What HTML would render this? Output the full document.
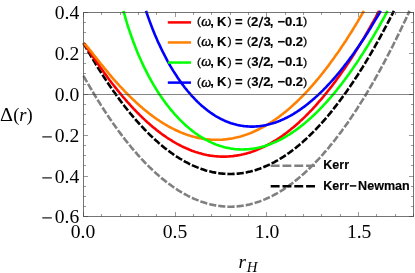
<!DOCTYPE html>
<html><head><meta charset="utf-8"><title>plot</title>
<style>
html,body{margin:0;padding:0;background:#fff;}
body{width:415px;height:273px;overflow:hidden;}
svg{display:block;will-change:transform}
text{font-family:"Liberation Serif",serif;font-size:18px;fill:#000}
.lg{font-family:"Liberation Sans",sans-serif;font-weight:bold;stroke:#000;stroke-width:0.15px}
.lp{font-family:"Liberation Sans",sans-serif;font-weight:normal;stroke:#000;stroke-width:0.3px}
.om{font-family:"Liberation Serif",serif;font-style:italic;font-weight:normal;stroke:#000;stroke-width:0.35px}
</style></head><body>
<svg width="415" height="273" viewBox="0 0 415 273">
<rect width="415" height="273" fill="#fff"/>
<g stroke-linejoin="round">
<path d="M83.5 75.9 84.8 78.1 86.0 80.3 87.3 82.5 88.5 84.7 89.8 86.9 91.1 89.0 92.3 91.1 93.6 93.2 94.8 95.3 96.1 97.4 97.3 99.4 98.6 101.4 99.9 103.4 101.1 105.4 102.4 107.4 103.6 109.3 104.9 111.3 106.2 113.2 107.4 115.1 108.7 116.9 109.9 118.8 111.2 120.6 112.5 122.4 113.7 124.2 115.0 126.0 116.2 127.7 117.5 129.5 118.7 131.2 120.0 132.9 121.3 134.6 122.5 136.2 123.8 137.9 125.0 139.5 126.3 141.1 127.6 142.7 128.8 144.2 130.1 145.8 131.3 147.3 132.6 148.8 133.9 150.3 135.1 151.7 136.4 153.2 137.6 154.6 138.9 156.0 140.1 157.4 141.4 158.8 142.7 160.1 143.9 161.5 145.2 162.8 146.4 164.1 147.7 165.3 149.0 166.6 150.2 167.8 151.5 169.0 152.7 170.2 154.0 171.4 155.3 172.6 156.5 173.7 157.8 174.8 159.0 175.9 160.3 177.0 161.5 178.1 162.8 179.1 164.1 180.1 165.3 181.1 166.6 182.1 167.8 183.1 169.1 184.0 170.4 184.9 171.6 185.8 172.9 186.7 174.1 187.6 175.4 188.4 176.7 189.3 177.9 190.1 179.2 190.9 180.4 191.6 181.7 192.4 182.9 193.1 184.2 193.8 185.5 194.5 186.7 195.2 188.0 195.9 189.2 196.5 190.5 197.1 191.8 197.7 193.0 198.3 194.3 198.9 195.5 199.4 196.8 199.9 198.1 200.4 199.3 200.9 200.6 201.4 201.8 201.8 203.1 202.2 204.3 202.6 205.6 203.0 206.9 203.4 208.1 203.7 209.4 204.1 210.6 204.4 211.9 204.7 213.2 204.9 214.4 205.2 215.7 205.4 216.9 205.6 218.2 205.8 219.5 206.0 220.7 206.1 222.0 206.3 223.2 206.4 224.5 206.5 225.7 206.6 227.0 206.6 228.3 206.7 229.5 206.7 230.8 206.7 232.0 206.7 233.3 206.6 234.6 206.6 235.8 206.5 237.1 206.4 238.3 206.3 239.6 206.1 240.9 206.0 242.1 205.8 243.4 205.6 244.6 205.4 245.9 205.2 247.1 204.9 248.4 204.7 249.7 204.4 250.9 204.1 252.2 203.7 253.4 203.4 254.7 203.0 256.0 202.6 257.2 202.2 258.5 201.8 259.7 201.4 261.0 200.9 262.3 200.4 263.5 199.9 264.8 199.4 266.0 198.8 267.3 198.3 268.5 197.7 269.8 197.1 271.1 196.5 272.3 195.9 273.6 195.2 274.8 194.5 276.1 193.8 277.4 193.1 278.6 192.4 279.9 191.6 281.1 190.9 282.4 190.1 283.7 189.3 284.9 188.4 286.2 187.6 287.4 186.7 288.7 185.8 289.9 184.9 291.2 184.0 292.5 183.1 293.7 182.1 295.0 181.1 296.2 180.1 297.5 179.1 298.8 178.0 300.0 177.0 301.3 175.9 302.5 174.8 303.8 173.7 305.1 172.5 306.3 171.4 307.6 170.2 308.8 169.0 310.1 167.8 311.3 166.6 312.6 165.3 313.9 164.0 315.1 162.7 316.4 161.4 317.6 160.1 318.9 158.8 320.2 157.4 321.4 156.0 322.7 154.6 323.9 153.2 325.2 151.7 326.5 150.2 327.7 148.8 329.0 147.3 330.2 145.7 331.5 144.2 332.7 142.6 334.0 141.1 335.3 139.5 336.5 137.8 337.8 136.2 339.0 134.5 340.3 132.9 341.6 131.2 342.8 129.4 344.1 127.7 345.3 126.0 346.6 124.2 347.9 122.4 349.1 120.6 350.4 118.7 351.6 116.9 352.9 115.0 354.1 113.1 355.4 111.2 356.7 109.3 357.9 107.3 359.2 105.4 360.4 103.4 361.7 101.4 363.0 99.4 364.2 97.3 365.5 95.3 366.7 93.2 368.0 91.1 369.3 89.0 370.5 86.8 371.8 84.7 373.0 82.5 374.3 80.3 375.5 78.1 376.8 75.8 378.1 73.6 379.3 71.3 380.6 69.0 381.8 66.7 383.1 64.3 384.4 62.0 385.6 59.6 386.9 57.2 388.1 54.8 389.4 52.4 390.7 49.9 391.9 47.5 393.2 45.0 394.4 42.5 395.7 40.0 396.9 37.4 398.2 34.8 399.5 32.3 400.7 29.7 402.0 27.0 403.2 24.4 404.5 21.7 405.8 19.1 407.0 16.4 408.3 13.6 409.5 10.9" fill="none" stroke="#808080" stroke-width="2.6" stroke-dasharray="7.2 2.0"/>
<path d="M83.5 43.2 84.7 45.3 85.9 47.4 87.1 49.5 88.3 51.6 89.5 53.6 90.7 55.7 91.9 57.7 93.1 59.7 94.3 61.7 95.5 63.7 96.7 65.6 97.9 67.6 99.1 69.5 100.3 71.4 101.5 73.3 102.7 75.1 103.9 77.0 105.1 78.8 106.3 80.6 107.5 82.4 108.7 84.2 109.9 86.0 111.1 87.7 112.3 89.4 113.5 91.2 114.7 92.8 115.9 94.5 117.1 96.2 118.3 97.8 119.4 99.4 120.6 101.0 121.8 102.6 123.0 104.2 124.2 105.8 125.4 107.3 126.6 108.8 127.8 110.3 129.0 111.8 130.2 113.3 131.4 114.7 132.6 116.1 133.8 117.5 135.0 118.9 136.2 120.3 137.4 121.7 138.6 123.0 139.8 124.3 141.0 125.7 142.2 126.9 143.4 128.2 144.6 129.5 145.8 130.7 147.0 131.9 148.2 133.1 149.4 134.3 150.6 135.5 151.8 136.6 153.0 137.8 154.2 138.9 155.4 140.0 156.6 141.1 157.8 142.1 159.0 143.2 160.2 144.2 161.4 145.2 162.6 146.2 163.8 147.2 165.0 148.2 166.2 149.1 167.4 150.0 168.6 150.9 169.8 151.8 171.0 152.7 172.2 153.5 173.4 154.4 174.6 155.2 175.8 156.0 177.0 156.8 178.2 157.5 179.4 158.3 180.6 159.0 181.8 159.7 183.0 160.4 184.2 161.1 185.4 161.8 186.6 162.4 187.8 163.0 189.0 163.7 190.2 164.2 191.3 164.8 192.5 165.4 193.7 165.9 194.9 166.4 196.1 166.9 197.3 167.4 198.5 167.9 199.7 168.4 200.9 168.8 202.1 169.2 203.3 169.6 204.5 170.0 205.7 170.4 206.9 170.7 208.1 171.0 209.3 171.3 210.5 171.6 211.7 171.9 212.9 172.2 214.1 172.4 215.3 172.6 216.5 172.8 217.7 173.0 218.9 173.2 220.1 173.4 221.3 173.5 222.5 173.6 223.7 173.7 224.9 173.8 226.1 173.9 227.3 173.9 228.5 174.0 229.7 174.0 230.9 174.0 232.1 174.0 233.3 173.9 234.5 173.9 235.7 173.8 236.9 173.7 238.1 173.6 239.3 173.5 240.5 173.3 241.7 173.2 242.9 173.0 244.1 172.8 245.3 172.6 246.5 172.4 247.7 172.1 248.9 171.8 250.1 171.6 251.3 171.3 252.5 170.9 253.7 170.6 254.9 170.3 256.1 169.9 257.3 169.5 258.5 169.1 259.7 168.7 260.9 168.2 262.1 167.8 263.2 167.3 264.4 166.8 265.6 166.3 266.8 165.8 268.0 165.2 269.2 164.7 270.4 164.1 271.6 163.5 272.8 162.9 274.0 162.3 275.2 161.6 276.4 160.9 277.6 160.3 278.8 159.6 280.0 158.8 281.2 158.1 282.4 157.3 283.6 156.6 284.8 155.8 286.0 155.0 287.2 154.2 288.4 153.3 289.6 152.5 290.8 151.6 292.0 150.7 293.2 149.8 294.4 148.9 295.6 147.9 296.8 146.9 298.0 146.0 299.2 145.0 300.4 143.9 301.6 142.9 302.8 141.9 304.0 140.8 305.2 139.7 306.4 138.6 307.6 137.5 308.8 136.3 310.0 135.2 311.2 134.0 312.4 132.8 313.6 131.6 314.8 130.4 316.0 129.2 317.2 127.9 318.4 126.6 319.6 125.3 320.8 124.0 322.0 122.7 323.2 121.3 324.4 120.0 325.6 118.6 326.8 117.2 328.0 115.8 329.2 114.3 330.4 112.9 331.6 111.4 332.8 109.9 333.9 108.4 335.1 106.9 336.3 105.4 337.5 103.8 338.7 102.2 339.9 100.6 341.1 99.0 342.3 97.4 343.5 95.7 344.7 94.1 345.9 92.4 347.1 90.7 348.3 89.0 349.5 87.3 350.7 85.5 351.9 83.7 353.1 82.0 354.3 80.2 355.5 78.3 356.7 76.5 357.9 74.7 359.1 72.8 360.3 70.9 361.5 69.0 362.7 67.1 363.9 65.1 365.1 63.2 366.3 61.2 367.5 59.2 368.7 57.2 369.9 55.1 371.1 53.1 372.3 51.0 373.5 49.0 374.7 46.9 375.9 44.7 377.1 42.6 378.3 40.5 379.5 38.3 380.7 36.1 381.9 33.9 383.1 31.7 384.3 29.4 385.5 27.2 386.7 24.9 387.9 22.6 389.1 20.3 390.3 18.0 391.5 15.6 392.7 13.3 393.9 10.9" fill="none" stroke="#000000" stroke-width="2.6" stroke-dasharray="7.2 2.0"/>
<path d="M83.5 43.2 84.6 44.5 85.8 46.1 86.9 47.8 88.1 49.4 89.2 51.1 90.3 52.8 91.5 54.5 92.6 56.2 93.8 57.9 94.9 59.5 96.1 61.2 97.2 62.8 98.3 64.5 99.5 66.1 100.6 67.7 101.8 69.3 102.9 70.9 104.0 72.5 105.2 74.1 106.3 75.6 107.5 77.2 108.6 78.7 109.7 80.2 110.9 81.7 112.0 83.2 113.2 84.7 114.3 86.1 115.5 87.6 116.6 89.0 117.7 90.4 118.9 91.8 120.0 93.2 121.2 94.6 122.3 96.0 123.4 97.3 124.6 98.7 125.7 100.0 126.9 101.3 128.0 102.6 129.2 103.8 130.3 105.1 131.4 106.3 132.6 107.6 133.7 108.8 134.9 110.0 136.0 111.2 137.1 112.3 138.3 113.5 139.4 114.6 140.6 115.8 141.7 116.9 142.8 118.0 144.0 119.1 145.1 120.1 146.3 121.2 147.4 122.2 148.6 123.2 149.7 124.2 150.8 125.2 152.0 126.2 153.1 127.2 154.3 128.1 155.4 129.0 156.5 130.0 157.7 130.9 158.8 131.7 160.0 132.6 161.1 133.5 162.2 134.3 163.4 135.1 164.5 135.9 165.7 136.7 166.8 137.5 168.0 138.3 169.1 139.0 170.2 139.7 171.4 140.4 172.5 141.1 173.7 141.8 174.8 142.5 175.9 143.2 177.1 143.8 178.2 144.4 179.4 145.0 180.5 145.6 181.6 146.2 182.8 146.8 183.9 147.3 185.1 147.8 186.2 148.3 187.4 148.8 188.5 149.3 189.6 149.8 190.8 150.2 191.9 150.7 193.1 151.1 194.2 151.5 195.3 151.9 196.5 152.3 197.6 152.6 198.8 153.0 199.9 153.3 201.1 153.6 202.2 153.9 203.3 154.2 204.5 154.5 205.6 154.7 206.8 155.0 207.9 155.2 209.0 155.4 210.2 155.6 211.3 155.7 212.5 155.9 213.6 156.0 214.7 156.2 215.9 156.3 217.0 156.4 218.2 156.5 219.3 156.5 220.5 156.6 221.6 156.6 222.7 156.6 223.9 156.6 225.0 156.6 226.2 156.6 227.3 156.5 228.4 156.5 229.6 156.4 230.7 156.3 231.9 156.2 233.0 156.1 234.1 155.9 235.3 155.8 236.4 155.6 237.6 155.4 238.7 155.2 239.9 155.0 241.0 154.8 242.1 154.5 243.3 154.3 244.4 154.0 245.6 153.7 246.7 153.4 247.8 153.1 249.0 152.7 250.1 152.4 251.3 152.0 252.4 151.6 253.5 151.2 254.7 150.8 255.8 150.3 257.0 149.9 258.1 149.4 259.3 148.9 260.4 148.4 261.5 147.9 262.7 147.4 263.8 146.9 265.0 146.3 266.1 145.7 267.2 145.1 268.4 144.5 269.5 143.9 270.7 143.3 271.8 142.6 273.0 141.9 274.1 141.2 275.2 140.5 276.4 139.8 277.5 139.1 278.7 138.3 279.8 137.6 280.9 136.8 282.1 136.0 283.2 135.2 284.4 134.4 285.5 133.5 286.6 132.7 287.8 131.8 288.9 130.9 290.1 130.0 291.2 129.1 292.4 128.1 293.5 127.2 294.6 126.2 295.8 125.2 296.9 124.2 298.1 123.2 299.2 122.2 300.3 121.1 301.5 120.1 302.6 119.0 303.8 117.9 304.9 116.8 306.0 115.7 307.2 114.5 308.3 113.4 309.5 112.2 310.6 111.0 311.8 109.8 312.9 108.6 314.0 107.3 315.2 106.1 316.3 104.8 317.5 103.5 318.6 102.2 319.7 100.9 320.9 99.6 322.0 98.3 323.2 96.9 324.3 95.5 325.4 94.1 326.6 92.7 327.7 91.3 328.9 89.8 330.0 88.4 331.2 86.9 332.3 85.4 333.4 83.9 334.6 82.4 335.7 80.9 336.9 79.3 338.0 77.8 339.1 76.2 340.3 74.6 341.4 73.0 342.6 71.3 343.7 69.7 344.9 68.0 346.0 66.4 347.1 64.7 348.3 63.0 349.4 61.2 350.6 59.5 351.7 57.7 352.8 56.0 354.0 54.2 355.1 52.4 356.3 50.6 357.4 48.7 358.5 46.9 359.7 45.0 360.8 43.1 362.0 41.2 363.1 39.3 364.3 37.4 365.4 35.5 366.5 33.5 367.7 31.5 368.8 29.5 370.0 27.5 371.1 25.5 372.2 23.5 373.4 21.4 374.5 19.3 375.7 17.3 376.8 15.1 377.9 13.0 379.1 10.9" fill="none" stroke="#ff0000" stroke-width="2.6"/>
<path d="M83.5 43.2 84.6 43.7 85.7 44.9 86.7 46.1 87.8 47.4 88.9 48.7 90.0 50.1 91.1 51.4 92.2 52.8 93.2 54.2 94.3 55.6 95.4 56.9 96.5 58.3 97.6 59.7 98.7 61.0 99.7 62.4 100.8 63.8 101.9 65.1 103.0 66.4 104.1 67.8 105.2 69.1 106.2 70.4 107.3 71.7 108.4 73.0 109.5 74.3 110.6 75.6 111.6 76.8 112.7 78.1 113.8 79.3 114.9 80.6 116.0 81.8 117.1 83.0 118.1 84.2 119.2 85.4 120.3 86.6 121.4 87.7 122.5 88.9 123.6 90.0 124.6 91.2 125.7 92.3 126.8 93.4 127.9 94.5 129.0 95.6 130.0 96.6 131.1 97.7 132.2 98.7 133.3 99.8 134.4 100.8 135.5 101.8 136.5 102.8 137.6 103.8 138.7 104.8 139.8 105.7 140.9 106.7 142.0 107.6 143.0 108.5 144.1 109.4 145.2 110.3 146.3 111.2 147.4 112.1 148.5 112.9 149.5 113.8 150.6 114.6 151.7 115.4 152.8 116.2 153.9 117.0 154.9 117.8 156.0 118.5 157.1 119.3 158.2 120.0 159.3 120.7 160.4 121.5 161.4 122.1 162.5 122.8 163.6 123.5 164.7 124.2 165.8 124.8 166.9 125.4 167.9 126.1 169.0 126.7 170.1 127.2 171.2 127.8 172.3 128.4 173.4 128.9 174.4 129.5 175.5 130.0 176.6 130.5 177.7 131.0 178.8 131.5 179.8 132.0 180.9 132.4 182.0 132.9 183.1 133.3 184.2 133.7 185.3 134.1 186.3 134.5 187.4 134.9 188.5 135.2 189.6 135.6 190.7 135.9 191.8 136.2 192.8 136.5 193.9 136.8 195.0 137.1 196.1 137.4 197.2 137.6 198.2 137.9 199.3 138.1 200.4 138.3 201.5 138.5 202.6 138.7 203.7 138.9 204.7 139.0 205.8 139.2 206.9 139.3 208.0 139.4 209.1 139.5 210.2 139.6 211.2 139.7 212.3 139.7 213.4 139.8 214.5 139.8 215.6 139.8 216.7 139.8 217.7 139.8 218.8 139.8 219.9 139.8 221.0 139.7 222.1 139.7 223.1 139.6 224.2 139.5 225.3 139.4 226.4 139.3 227.5 139.1 228.6 139.0 229.6 138.8 230.7 138.7 231.8 138.5 232.9 138.3 234.0 138.0 235.1 137.8 236.1 137.6 237.2 137.3 238.3 137.0 239.4 136.8 240.5 136.5 241.5 136.2 242.6 135.8 243.7 135.5 244.8 135.1 245.9 134.8 247.0 134.4 248.0 134.0 249.1 133.6 250.2 133.2 251.3 132.7 252.4 132.3 253.5 131.8 254.5 131.3 255.6 130.8 256.7 130.3 257.8 129.8 258.9 129.3 260.0 128.7 261.0 128.2 262.1 127.6 263.2 127.0 264.3 126.4 265.4 125.8 266.4 125.1 267.5 124.5 268.6 123.8 269.7 123.1 270.8 122.5 271.9 121.8 272.9 121.0 274.0 120.3 275.1 119.6 276.2 118.8 277.3 118.0 278.4 117.3 279.4 116.5 280.5 115.6 281.6 114.8 282.7 114.0 283.8 113.1 284.9 112.2 285.9 111.4 287.0 110.5 288.1 109.6 289.2 108.6 290.3 107.7 291.3 106.7 292.4 105.8 293.5 104.8 294.6 103.8 295.7 102.8 296.8 101.8 297.8 100.7 298.9 99.7 300.0 98.6 301.1 97.5 302.2 96.4 303.3 95.3 304.3 94.2 305.4 93.1 306.5 91.9 307.6 90.8 308.7 89.6 309.7 88.4 310.8 87.2 311.9 86.0 313.0 84.7 314.1 83.5 315.2 82.2 316.2 80.9 317.3 79.6 318.4 78.3 319.5 77.0 320.6 75.7 321.7 74.3 322.7 73.0 323.8 71.6 324.9 70.2 326.0 68.8 327.1 67.4 328.2 66.0 329.2 64.5 330.3 63.1 331.4 61.6 332.5 60.1 333.6 58.6 334.6 57.1 335.7 55.6 336.8 54.0 337.9 52.5 339.0 50.9 340.1 49.3 341.1 47.7 342.2 46.1 343.3 44.5 344.4 42.8 345.5 41.2 346.6 39.5 347.6 37.8 348.7 36.1 349.8 34.4 350.9 32.7 352.0 31.0 353.1 29.2 354.1 27.4 355.2 25.7 356.3 23.9 357.4 22.1 358.5 20.2 359.5 18.4 360.6 16.5 361.7 14.7 362.8 12.8 363.9 10.9" fill="none" stroke="#ff8000" stroke-width="2.6"/>
<path d="M123.4 10.9 124.5 14.6 125.5 18.1 126.5 21.5 127.5 24.8 128.5 28.0 129.6 31.1 130.6 34.1 131.6 37.0 132.6 39.8 133.6 42.6 134.7 45.3 135.7 47.9 136.7 50.4 137.7 52.9 138.7 55.3 139.8 57.7 140.8 60.0 141.8 62.2 142.8 64.4 143.8 66.6 144.9 68.7 145.9 70.7 146.9 72.7 147.9 74.7 148.9 76.6 150.0 78.5 151.0 80.3 152.0 82.1 153.0 83.9 154.0 85.6 155.1 87.3 156.1 89.0 157.1 90.6 158.1 92.2 159.1 93.8 160.1 95.3 161.2 96.8 162.2 98.3 163.2 99.7 164.2 101.1 165.2 102.5 166.3 103.9 167.3 105.2 168.3 106.5 169.3 107.8 170.3 109.1 171.4 110.3 172.4 111.5 173.4 112.7 174.4 113.9 175.4 115.0 176.5 116.1 177.5 117.2 178.5 118.3 179.5 119.4 180.5 120.4 181.6 121.4 182.6 122.4 183.6 123.4 184.6 124.3 185.6 125.3 186.7 126.2 187.7 127.0 188.7 127.9 189.7 128.8 190.7 129.6 191.8 130.4 192.8 131.2 193.8 132.0 194.8 132.7 195.8 133.5 196.9 134.2 197.9 134.9 198.9 135.6 199.9 136.2 200.9 136.9 202.0 137.5 203.0 138.1 204.0 138.7 205.0 139.3 206.0 139.9 207.1 140.4 208.1 140.9 209.1 141.5 210.1 141.9 211.1 142.4 212.2 142.9 213.2 143.3 214.2 143.8 215.2 144.2 216.2 144.6 217.3 145.0 218.3 145.3 219.3 145.7 220.3 146.0 221.3 146.3 222.4 146.6 223.4 146.9 224.4 147.2 225.4 147.4 226.4 147.7 227.5 147.9 228.5 148.1 229.5 148.3 230.5 148.5 231.5 148.7 232.6 148.8 233.6 148.9 234.6 149.1 235.6 149.2 236.6 149.3 237.7 149.3 238.7 149.4 239.7 149.4 240.7 149.5 241.7 149.5 242.8 149.5 243.8 149.5 244.8 149.4 245.8 149.4 246.8 149.3 247.8 149.3 248.9 149.2 249.9 149.1 250.9 149.0 251.9 148.8 252.9 148.7 254.0 148.5 255.0 148.4 256.0 148.2 257.0 148.0 258.0 147.8 259.1 147.5 260.1 147.3 261.1 147.0 262.1 146.8 263.1 146.5 264.2 146.2 265.2 145.9 266.2 145.6 267.2 145.2 268.2 144.9 269.3 144.5 270.3 144.1 271.3 143.7 272.3 143.3 273.3 142.9 274.4 142.4 275.4 142.0 276.4 141.5 277.4 141.1 278.4 140.6 279.5 140.1 280.5 139.5 281.5 139.0 282.5 138.5 283.5 137.9 284.6 137.3 285.6 136.7 286.6 136.1 287.6 135.5 288.6 134.9 289.7 134.3 290.7 133.6 291.7 132.9 292.7 132.2 293.7 131.5 294.8 130.8 295.8 130.1 296.8 129.4 297.8 128.6 298.8 127.9 299.9 127.1 300.9 126.3 301.9 125.5 302.9 124.7 303.9 123.8 305.0 123.0 306.0 122.1 307.0 121.3 308.0 120.4 309.0 119.5 310.1 118.6 311.1 117.7 312.1 116.7 313.1 115.8 314.1 114.8 315.2 113.8 316.2 112.8 317.2 111.8 318.2 110.8 319.2 109.8 320.3 108.7 321.3 107.7 322.3 106.6 323.3 105.5 324.3 104.4 325.4 103.3 326.4 102.2 327.4 101.1 328.4 99.9 329.4 98.8 330.5 97.6 331.5 96.4 332.5 95.2 333.5 94.0 334.5 92.8 335.6 91.5 336.6 90.3 337.6 89.0 338.6 87.7 339.6 86.4 340.6 85.1 341.7 83.8 342.7 82.5 343.7 81.1 344.7 79.8 345.7 78.4 346.8 77.0 347.8 75.6 348.8 74.2 349.8 72.8 350.8 71.3 351.9 69.9 352.9 68.4 353.9 66.9 354.9 65.4 355.9 63.9 357.0 62.4 358.0 60.9 359.0 59.4 360.0 57.8 361.0 56.2 362.1 54.6 363.1 53.1 364.1 51.4 365.1 49.8 366.1 48.2 367.2 46.5 368.2 44.9 369.2 43.2 370.2 41.5 371.2 39.8 372.3 38.1 373.3 36.4 374.3 34.7 375.3 32.9 376.3 31.1 377.4 29.4 378.4 27.6 379.4 25.8 380.4 24.0 381.4 22.1 382.5 20.3 383.5 18.4 384.5 16.6 385.5 14.7 386.5 12.8 387.6 10.9" fill="none" stroke="#00ff00" stroke-width="2.6"/>
<path d="M146.0 10.9 146.9 13.5 147.8 16.1 148.7 18.6 149.6 21.1 150.5 23.5 151.4 25.9 152.3 28.2 153.2 30.5 154.1 32.7 155.0 34.9 155.9 37.0 156.8 39.1 157.7 41.2 158.6 43.2 159.6 45.1 160.5 47.1 161.4 49.0 162.3 50.8 163.2 52.7 164.1 54.4 165.0 56.2 165.9 57.9 166.8 59.6 167.7 61.3 168.6 62.9 169.5 64.5 170.4 66.1 171.3 67.6 172.2 69.1 173.1 70.6 174.1 72.1 175.0 73.5 175.9 74.9 176.8 76.3 177.7 77.7 178.6 79.0 179.5 80.3 180.4 81.6 181.3 82.9 182.2 84.1 183.1 85.3 184.0 86.5 184.9 87.7 185.8 88.8 186.7 89.9 187.6 91.0 188.6 92.1 189.5 93.2 190.4 94.2 191.3 95.3 192.2 96.3 193.1 97.2 194.0 98.2 194.9 99.2 195.8 100.1 196.7 101.0 197.6 101.9 198.5 102.7 199.4 103.6 200.3 104.4 201.2 105.3 202.1 106.1 203.1 106.8 204.0 107.6 204.9 108.3 205.8 109.1 206.7 109.8 207.6 110.5 208.5 111.2 209.4 111.8 210.3 112.5 211.2 113.1 212.1 113.7 213.0 114.3 213.9 114.9 214.8 115.5 215.7 116.1 216.6 116.6 217.6 117.1 218.5 117.6 219.4 118.1 220.3 118.6 221.2 119.1 222.1 119.5 223.0 119.9 223.9 120.4 224.8 120.8 225.7 121.2 226.6 121.5 227.5 121.9 228.4 122.3 229.3 122.6 230.2 122.9 231.1 123.2 232.1 123.5 233.0 123.8 233.9 124.1 234.8 124.3 235.7 124.5 236.6 124.8 237.5 125.0 238.4 125.2 239.3 125.4 240.2 125.5 241.1 125.7 242.0 125.8 242.9 126.0 243.8 126.1 244.7 126.2 245.6 126.3 246.6 126.4 247.5 126.4 248.4 126.5 249.3 126.5 250.2 126.6 251.1 126.6 252.0 126.6 252.9 126.6 253.8 126.6 254.7 126.5 255.6 126.5 256.5 126.4 257.4 126.4 258.3 126.3 259.2 126.2 260.1 126.1 261.1 126.0 262.0 125.8 262.9 125.7 263.8 125.5 264.7 125.4 265.6 125.2 266.5 125.0 267.4 124.8 268.3 124.6 269.2 124.3 270.1 124.1 271.0 123.8 271.9 123.6 272.8 123.3 273.7 123.0 274.6 122.7 275.6 122.4 276.5 122.1 277.4 121.8 278.3 121.4 279.2 121.1 280.1 120.7 281.0 120.3 281.9 119.9 282.8 119.5 283.7 119.1 284.6 118.7 285.5 118.2 286.4 117.8 287.3 117.3 288.2 116.8 289.1 116.4 290.1 115.9 291.0 115.4 291.9 114.8 292.8 114.3 293.7 113.8 294.6 113.2 295.5 112.6 296.4 112.1 297.3 111.5 298.2 110.9 299.1 110.3 300.0 109.7 300.9 109.0 301.8 108.4 302.7 107.7 303.6 107.1 304.6 106.4 305.5 105.7 306.4 105.0 307.3 104.3 308.2 103.6 309.1 102.8 310.0 102.1 310.9 101.3 311.8 100.6 312.7 99.8 313.6 99.0 314.5 98.2 315.4 97.4 316.3 96.6 317.2 95.8 318.1 94.9 319.1 94.1 320.0 93.2 320.9 92.3 321.8 91.4 322.7 90.6 323.6 89.6 324.5 88.7 325.4 87.8 326.3 86.9 327.2 85.9 328.1 84.9 329.0 84.0 329.9 83.0 330.8 82.0 331.7 81.0 332.6 80.0 333.6 79.0 334.5 77.9 335.4 76.9 336.3 75.8 337.2 74.7 338.1 73.7 339.0 72.6 339.9 71.5 340.8 70.4 341.7 69.2 342.6 68.1 343.5 67.0 344.4 65.8 345.3 64.6 346.2 63.5 347.1 62.3 348.1 61.1 349.0 59.9 349.9 58.6 350.8 57.4 351.7 56.2 352.6 54.9 353.5 53.7 354.4 52.4 355.3 51.1 356.2 49.8 357.1 48.5 358.0 47.2 358.9 45.9 359.8 44.5 360.7 43.2 361.6 41.8 362.6 40.5 363.5 39.1 364.4 37.7 365.3 36.3 366.2 34.9 367.1 33.5 368.0 32.0 368.9 30.6 369.8 29.1 370.7 27.7 371.6 26.2 372.5 24.7 373.4 23.2 374.3 21.7 375.2 20.2 376.1 18.7 377.1 17.1 378.0 15.6 378.9 14.0 379.8 12.5 380.7 10.9" fill="none" stroke="#0000ff" stroke-width="2.6"/>
</g>
<line x1="83.50" y1="94.50" x2="413.50" y2="94.50" stroke="#333" stroke-opacity="0.6" stroke-width="1"/>
<g stroke="#333" stroke-opacity="0.5" stroke-width="1">
<line x1="83.5" y1="216.5" x2="83.5" y2="212.0"/>
<line x1="83.5" y1="12.5" x2="83.5" y2="17.0"/>
<line x1="101.5" y1="216.5" x2="101.5" y2="214.0"/>
<line x1="101.5" y1="12.5" x2="101.5" y2="15.0"/>
<line x1="120.5" y1="216.5" x2="120.5" y2="214.0"/>
<line x1="120.5" y1="12.5" x2="120.5" y2="15.0"/>
<line x1="138.5" y1="216.5" x2="138.5" y2="214.0"/>
<line x1="138.5" y1="12.5" x2="138.5" y2="15.0"/>
<line x1="156.5" y1="216.5" x2="156.5" y2="214.0"/>
<line x1="156.5" y1="12.5" x2="156.5" y2="15.0"/>
<line x1="175.5" y1="216.5" x2="175.5" y2="212.0"/>
<line x1="175.5" y1="12.5" x2="175.5" y2="17.0"/>
<line x1="193.5" y1="216.5" x2="193.5" y2="214.0"/>
<line x1="193.5" y1="12.5" x2="193.5" y2="15.0"/>
<line x1="211.5" y1="216.5" x2="211.5" y2="214.0"/>
<line x1="211.5" y1="12.5" x2="211.5" y2="15.0"/>
<line x1="230.5" y1="216.5" x2="230.5" y2="214.0"/>
<line x1="230.5" y1="12.5" x2="230.5" y2="15.0"/>
<line x1="248.5" y1="216.5" x2="248.5" y2="214.0"/>
<line x1="248.5" y1="12.5" x2="248.5" y2="15.0"/>
<line x1="266.5" y1="216.5" x2="266.5" y2="212.0"/>
<line x1="266.5" y1="12.5" x2="266.5" y2="17.0"/>
<line x1="285.5" y1="216.5" x2="285.5" y2="214.0"/>
<line x1="285.5" y1="12.5" x2="285.5" y2="15.0"/>
<line x1="303.5" y1="216.5" x2="303.5" y2="214.0"/>
<line x1="303.5" y1="12.5" x2="303.5" y2="15.0"/>
<line x1="321.5" y1="216.5" x2="321.5" y2="214.0"/>
<line x1="321.5" y1="12.5" x2="321.5" y2="15.0"/>
<line x1="340.5" y1="216.5" x2="340.5" y2="214.0"/>
<line x1="340.5" y1="12.5" x2="340.5" y2="15.0"/>
<line x1="358.5" y1="216.5" x2="358.5" y2="212.0"/>
<line x1="358.5" y1="12.5" x2="358.5" y2="17.0"/>
<line x1="376.5" y1="216.5" x2="376.5" y2="214.0"/>
<line x1="376.5" y1="12.5" x2="376.5" y2="15.0"/>
<line x1="395.5" y1="216.5" x2="395.5" y2="214.0"/>
<line x1="395.5" y1="12.5" x2="395.5" y2="15.0"/>
<line x1="413.5" y1="216.5" x2="413.5" y2="214.0"/>
<line x1="413.5" y1="12.5" x2="413.5" y2="15.0"/>
<line x1="83.5" y1="216.5" x2="88.0" y2="216.5"/>
<line x1="413.5" y1="216.5" x2="409.0" y2="216.5"/>
<line x1="83.5" y1="206.5" x2="86.0" y2="206.5"/>
<line x1="413.5" y1="206.5" x2="411.0" y2="206.5"/>
<line x1="83.5" y1="196.5" x2="86.0" y2="196.5"/>
<line x1="413.5" y1="196.5" x2="411.0" y2="196.5"/>
<line x1="83.5" y1="186.5" x2="86.0" y2="186.5"/>
<line x1="413.5" y1="186.5" x2="411.0" y2="186.5"/>
<line x1="83.5" y1="176.5" x2="88.0" y2="176.5"/>
<line x1="413.5" y1="176.5" x2="409.0" y2="176.5"/>
<line x1="83.5" y1="165.5" x2="86.0" y2="165.5"/>
<line x1="413.5" y1="165.5" x2="411.0" y2="165.5"/>
<line x1="83.5" y1="155.5" x2="86.0" y2="155.5"/>
<line x1="413.5" y1="155.5" x2="411.0" y2="155.5"/>
<line x1="83.5" y1="145.5" x2="86.0" y2="145.5"/>
<line x1="413.5" y1="145.5" x2="411.0" y2="145.5"/>
<line x1="83.5" y1="135.5" x2="88.0" y2="135.5"/>
<line x1="413.5" y1="135.5" x2="409.0" y2="135.5"/>
<line x1="83.5" y1="124.5" x2="86.0" y2="124.5"/>
<line x1="413.5" y1="124.5" x2="411.0" y2="124.5"/>
<line x1="83.5" y1="114.5" x2="86.0" y2="114.5"/>
<line x1="413.5" y1="114.5" x2="411.0" y2="114.5"/>
<line x1="83.5" y1="104.5" x2="86.0" y2="104.5"/>
<line x1="413.5" y1="104.5" x2="411.0" y2="104.5"/>
<line x1="83.5" y1="94.5" x2="88.0" y2="94.5"/>
<line x1="413.5" y1="94.5" x2="409.0" y2="94.5"/>
<line x1="83.5" y1="84.5" x2="86.0" y2="84.5"/>
<line x1="413.5" y1="84.5" x2="411.0" y2="84.5"/>
<line x1="83.5" y1="73.5" x2="86.0" y2="73.5"/>
<line x1="413.5" y1="73.5" x2="411.0" y2="73.5"/>
<line x1="83.5" y1="63.5" x2="86.0" y2="63.5"/>
<line x1="413.5" y1="63.5" x2="411.0" y2="63.5"/>
<line x1="83.5" y1="53.5" x2="88.0" y2="53.5"/>
<line x1="413.5" y1="53.5" x2="409.0" y2="53.5"/>
<line x1="83.5" y1="43.5" x2="86.0" y2="43.5"/>
<line x1="413.5" y1="43.5" x2="411.0" y2="43.5"/>
<line x1="83.5" y1="32.5" x2="86.0" y2="32.5"/>
<line x1="413.5" y1="32.5" x2="411.0" y2="32.5"/>
<line x1="83.5" y1="22.5" x2="86.0" y2="22.5"/>
<line x1="413.5" y1="22.5" x2="411.0" y2="22.5"/>
<line x1="83.5" y1="12.5" x2="88.0" y2="12.5"/>
<line x1="413.5" y1="12.5" x2="409.0" y2="12.5"/>
</g>
<rect x="83.50" y="12.50" width="330.00" height="204.00" fill="none" stroke="#333" stroke-opacity="0.68" stroke-width="1"/>
<g>
<text transform="translate(79.3 19.00) scale(1.09 1)" text-anchor="end">0.4</text>
<text transform="translate(79.3 60.00) scale(1.09 1)" text-anchor="end">0.2</text>
<text transform="translate(79.3 101.00) scale(1.09 1)" text-anchor="end">0.0</text>
<text transform="translate(79.3 142.00) scale(1.09 1)" text-anchor="end">0.2</text>
<line x1="42.3" y1="136.90" x2="51.8" y2="136.90" stroke="#000" stroke-width="1.1"/>
<text transform="translate(79.3 183.00) scale(1.09 1)" text-anchor="end">0.4</text>
<line x1="42.3" y1="177.90" x2="51.8" y2="177.90" stroke="#000" stroke-width="1.1"/>
<text transform="translate(79.3 223.00) scale(1.09 1)" text-anchor="end">0.6</text>
<line x1="42.3" y1="217.90" x2="51.8" y2="217.90" stroke="#000" stroke-width="1.1"/>
<text transform="translate(83.00 237.6) scale(1.09 1)" text-anchor="middle">0.0</text>
<text transform="translate(175.05 237.6) scale(1.09 1)" text-anchor="middle">0.5</text>
<text transform="translate(267.10 237.6) scale(1.09 1)" text-anchor="middle">1.0</text>
<text transform="translate(359.15 237.6) scale(1.09 1)" text-anchor="middle">1.5</text>
</g>
<text transform="translate(0.1 121) scale(1.09 1)" style="font-size:18.5px">Δ</text>
<text x="13.2" y="121" style="font-size:18.5px">(<tspan font-style="italic">r</tspan>)</text>
<text x="238.6" y="267.6" style="font-size:19px;font-style:italic">r<tspan dx="0.7" dy="4.3" style="font-size:14.8px">H</tspan></text>
<line x1="167.8" y1="22.40" x2="191" y2="22.40" stroke="#ff0000" stroke-width="2.5"/>
<text x="196.92" y="25.40" class="lp" style="font-size:11.7px">(</text>
<text x="201.28" y="26.30" class="om" style="font-size:14.2px">ω</text>
<text x="210.16" y="26.10" class="lg" style="font-size:13.05px">,</text>
<text x="216.98" y="25.70" class="lg" style="font-size:13.05px">K</text>
<text x="227.78" y="25.40" class="lp" style="font-size:11.7px">)</text>
<text x="235.11" y="25.70" class="lg" style="font-size:13.05px">=</text>
<text x="247.12" y="25.40" class="lp" style="font-size:11.7px">(</text>
<text x="251.10" y="25.70" class="lg" style="font-size:13.05px">2</text>
<line x1="259.0" y1="27.60" x2="262.7" y2="16.70" stroke="#000" stroke-width="1.5"/>
<text x="263.45" y="25.70" class="lg" style="font-size:13.05px">3</text>
<text x="269.86" y="26.10" class="lg" style="font-size:13.05px">,</text>
<text x="277.41" y="25.70" class="lg" style="font-size:13.05px">−</text>
<text x="284.93" y="25.70" class="lg" style="font-size:13.05px">0.1</text>
<text x="303.18" y="25.40" class="lp" style="font-size:11.7px">)</text>
<line x1="167.8" y1="42.47" x2="191" y2="42.47" stroke="#ff8000" stroke-width="2.5"/>
<text x="196.92" y="45.47" class="lp" style="font-size:11.7px">(</text>
<text x="201.28" y="46.37" class="om" style="font-size:14.2px">ω</text>
<text x="210.16" y="46.17" class="lg" style="font-size:13.05px">,</text>
<text x="216.98" y="45.77" class="lg" style="font-size:13.05px">K</text>
<text x="227.78" y="45.47" class="lp" style="font-size:11.7px">)</text>
<text x="235.11" y="45.77" class="lg" style="font-size:13.05px">=</text>
<text x="247.12" y="45.47" class="lp" style="font-size:11.7px">(</text>
<text x="251.10" y="45.77" class="lg" style="font-size:13.05px">2</text>
<line x1="259.0" y1="47.67" x2="262.7" y2="36.77" stroke="#000" stroke-width="1.5"/>
<text x="263.45" y="45.77" class="lg" style="font-size:13.05px">3</text>
<text x="269.86" y="46.17" class="lg" style="font-size:13.05px">,</text>
<text x="277.41" y="45.77" class="lg" style="font-size:13.05px">−</text>
<text x="284.93" y="45.77" class="lg" style="font-size:13.05px">0.2</text>
<text x="303.18" y="45.47" class="lp" style="font-size:11.7px">)</text>
<line x1="167.8" y1="62.54" x2="191" y2="62.54" stroke="#00ff00" stroke-width="2.5"/>
<text x="196.92" y="65.54" class="lp" style="font-size:11.7px">(</text>
<text x="201.28" y="66.44" class="om" style="font-size:14.2px">ω</text>
<text x="210.16" y="66.24" class="lg" style="font-size:13.05px">,</text>
<text x="216.98" y="65.84" class="lg" style="font-size:13.05px">K</text>
<text x="227.78" y="65.54" class="lp" style="font-size:11.7px">)</text>
<text x="235.11" y="65.84" class="lg" style="font-size:13.05px">=</text>
<text x="247.12" y="65.54" class="lp" style="font-size:11.7px">(</text>
<text x="251.25" y="65.84" class="lg" style="font-size:13.05px">3</text>
<line x1="259.0" y1="67.74" x2="262.7" y2="56.84" stroke="#000" stroke-width="1.5"/>
<text x="263.30" y="65.84" class="lg" style="font-size:13.05px">2</text>
<text x="269.86" y="66.24" class="lg" style="font-size:13.05px">,</text>
<text x="277.41" y="65.84" class="lg" style="font-size:13.05px">−</text>
<text x="284.93" y="65.84" class="lg" style="font-size:13.05px">0.1</text>
<text x="303.18" y="65.54" class="lp" style="font-size:11.7px">)</text>
<line x1="167.8" y1="82.61" x2="191" y2="82.61" stroke="#0000ff" stroke-width="2.5"/>
<text x="196.92" y="85.61" class="lp" style="font-size:11.7px">(</text>
<text x="201.28" y="86.51" class="om" style="font-size:14.2px">ω</text>
<text x="210.16" y="86.31" class="lg" style="font-size:13.05px">,</text>
<text x="216.98" y="85.91" class="lg" style="font-size:13.05px">K</text>
<text x="227.78" y="85.61" class="lp" style="font-size:11.7px">)</text>
<text x="235.11" y="85.91" class="lg" style="font-size:13.05px">=</text>
<text x="247.12" y="85.61" class="lp" style="font-size:11.7px">(</text>
<text x="251.25" y="85.91" class="lg" style="font-size:13.05px">3</text>
<line x1="259.0" y1="87.81" x2="262.7" y2="76.91" stroke="#000" stroke-width="1.5"/>
<text x="263.30" y="85.91" class="lg" style="font-size:13.05px">2</text>
<text x="269.86" y="86.31" class="lg" style="font-size:13.05px">,</text>
<text x="277.41" y="85.91" class="lg" style="font-size:13.05px">−</text>
<text x="284.93" y="85.91" class="lg" style="font-size:13.05px">0.2</text>
<text x="303.18" y="85.61" class="lp" style="font-size:11.7px">)</text>
<line x1="270.7" y1="165.7" x2="315.2" y2="165.7" stroke="#808080" stroke-width="2.5" stroke-dasharray="8.9 2.9"/>
<text x="323.31" y="169.30" class="lg" style="font-size:12.55px">Kerr</text>
<line x1="270.7" y1="186.2" x2="315.2" y2="186.2" stroke="#000" stroke-width="2.5" stroke-dasharray="8.9 2.9"/>
<text x="323.31" y="190.10" class="lg" style="font-size:12.55px">Kerr</text>
<line x1="349.8" y1="185.9" x2="356.3" y2="185.9" stroke="#000" stroke-width="1.5"/>
<text x="358.11" y="190.10" class="lg" style="font-size:12.55px">Newman</text>
</svg>
</body></html>
